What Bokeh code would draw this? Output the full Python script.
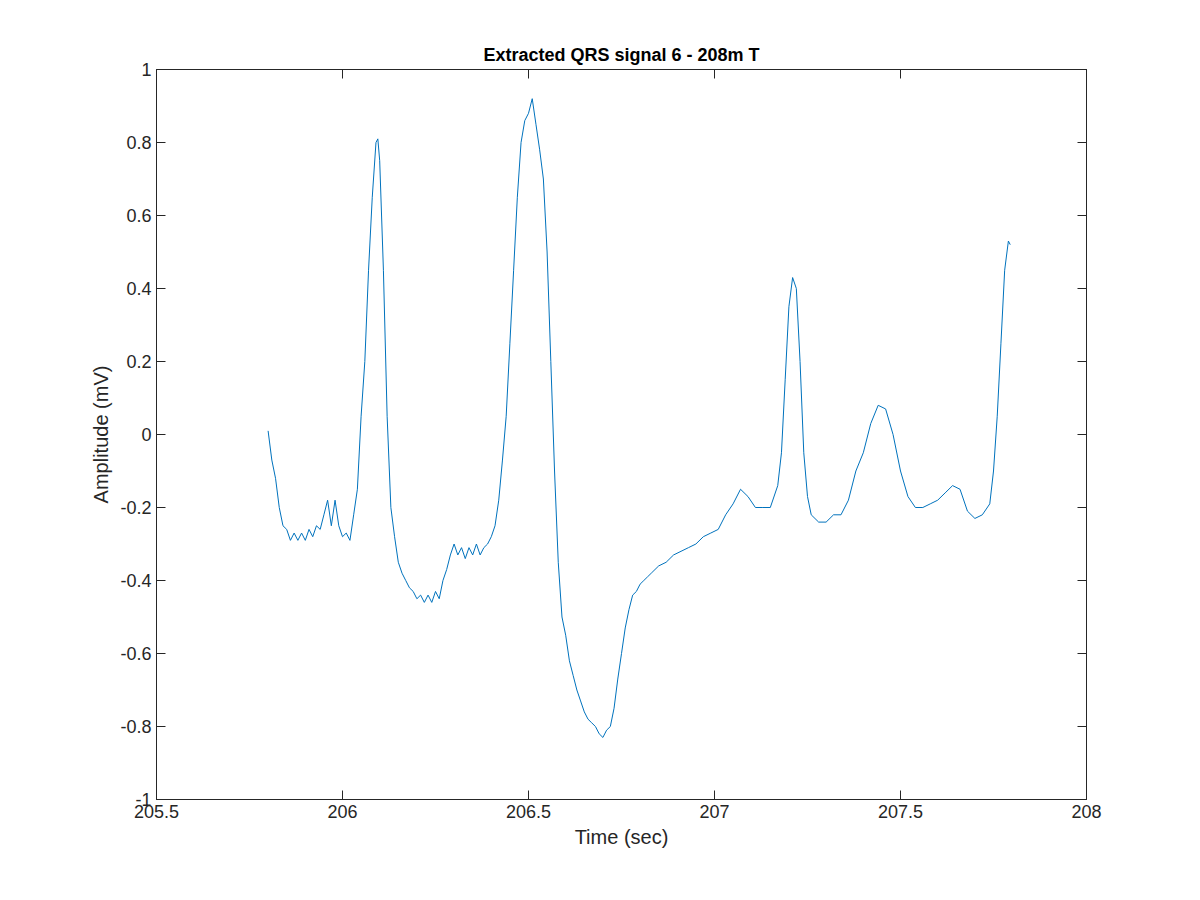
from bokeh.plotting import figure
from bokeh.models import LinearAxis, Range1d, FixedTicker
from bokeh.embed import file_html
from bokeh.resources import INLINE

t = [205.80,205.81,205.82,205.83,205.84,205.85,205.86,205.87,205.88,205.89,205.90,205.91,205.92,205.93,205.94,205.95,205.96,205.97,205.98,205.99,
206.00,206.01,206.02,206.03,206.04,206.05,206.06,206.07,206.08,206.09,206.095,206.10,206.11,206.12,206.13,206.14,206.15,206.16,206.17,206.18,206.19,
206.20,206.21,206.22,206.23,206.24,206.25,206.26,206.27,206.28,206.29,206.30,206.31,206.32,206.33,206.34,206.35,206.36,206.37,206.38,206.39,
206.40,206.41,206.42,206.43,206.44,206.45,206.46,206.47,206.48,206.49,206.50,206.51,206.52,206.53,206.54,206.55,206.56,206.57,206.58,206.59,
206.60,206.61,206.62,206.63,206.64,206.65,206.66,206.67,206.68,206.69,206.70,206.71,206.72,206.73,206.74,206.75,206.76,206.77,206.78,206.79,
206.80,206.81,206.82,206.83,206.85,206.87,206.89,206.91,206.93,206.95,206.97,206.99,207.01,207.03,207.05,207.07,207.09,207.11,207.13,207.15,
207.17,207.18,207.19,207.20,207.21,207.22,207.23,207.24,207.25,207.26,207.28,207.30,207.32,207.34,207.36,207.38,207.40,207.42,207.44,207.46,
207.48,207.50,207.52,207.54,207.56,207.58,207.60,207.62,207.64,207.66,207.68,207.70,207.72,207.74,207.75,207.76,207.77,207.78,207.79,207.795]
amp = [0.01,-0.07,-0.12,-0.20,-0.25,-0.26,-0.29,-0.27,-0.29,-0.27,-0.29,-0.26,-0.28,-0.25,-0.26,-0.22,-0.18,-0.25,-0.18,-0.25,
-0.28,-0.27,-0.29,-0.22,-0.15,0.05,0.20,0.45,0.65,0.80,0.81,0.75,0.45,0.05,-0.20,-0.28,-0.35,-0.38,-0.40,-0.42,-0.43,
-0.45,-0.44,-0.46,-0.44,-0.46,-0.43,-0.45,-0.40,-0.37,-0.33,-0.30,-0.33,-0.31,-0.34,-0.31,-0.33,-0.30,-0.33,-0.31,-0.30,
-0.28,-0.25,-0.18,-0.07,0.05,0.25,0.45,0.65,0.80,0.86,0.88,0.92,0.85,0.78,0.70,0.50,0.20,-0.10,-0.35,-0.50,
-0.55,-0.62,-0.66,-0.70,-0.73,-0.76,-0.78,-0.79,-0.80,-0.82,-0.83,-0.81,-0.80,-0.75,-0.67,-0.60,-0.53,-0.48,-0.44,-0.43,
-0.41,-0.40,-0.39,-0.38,-0.36,-0.35,-0.33,-0.32,-0.31,-0.30,-0.28,-0.27,-0.26,-0.22,-0.19,-0.15,-0.17,-0.20,-0.20,-0.20,
-0.14,-0.05,0.15,0.35,0.43,0.40,0.20,-0.05,-0.17,-0.22,-0.24,-0.24,-0.22,-0.22,-0.18,-0.10,-0.05,0.03,0.08,0.07,
0.00,-0.10,-0.17,-0.20,-0.20,-0.19,-0.18,-0.16,-0.14,-0.15,-0.21,-0.23,-0.22,-0.19,-0.10,0.05,0.25,0.45,0.53,0.52]

xticks = [205.5, 206, 206.5, 207, 207.5, 208]
yticks = [-1, -0.8, -0.6, -0.4, -0.2, 0, 0.2, 0.4, 0.6, 0.8, 1]
font = "Liberation Sans"

p = figure(width=1184, height=884, output_backend="svg", toolbar_location=None,
           x_range=Range1d(205.5, 208), y_range=Range1d(-1, 1),
           min_border_left=156, min_border_right=98, min_border_top=69, min_border_bottom=85,
           title="Extracted QRS signal 6 - 208m T")
p.title.align = "center"
p.title.text_font = font
p.title.text_font_size = "18px"
p.title.text_font_style = "bold"
p.title.text_color = "black"
p.xgrid.visible = False
p.ygrid.visible = False
p.outline_line_color = "#262626"

p.line(t, amp, line_color="#0072BD", line_width=1)

def style(ax, ticks):
    ax.ticker = FixedTicker(ticks=ticks)
    ax.major_tick_in = 9
    ax.major_tick_out = 0
    ax.minor_tick_line_color = None
    ax.axis_line_color = "#262626"
    ax.major_tick_line_color = "#262626"
    ax.major_label_text_font = font
    ax.major_label_text_font_size = "18px"
    ax.major_label_text_color = "#262626"
    ax.axis_label_text_font = font
    ax.axis_label_text_font_size = "20px"
    ax.axis_label_text_font_style = "normal"
    ax.axis_label_text_color = "#262626"

p.xaxis.axis_label = "Time (sec)"
p.yaxis.axis_label = "Amplitude (mV)"
style(p.xaxis[0], xticks)
style(p.yaxis[0], yticks)
p.xaxis[0].major_label_overrides = {v: ("%g" % v) for v in xticks}
p.yaxis[0].major_label_overrides = {v: ("%g" % v) for v in yticks}

ra = LinearAxis(); style(ra, yticks)
ta = LinearAxis(); style(ta, xticks)
ra.major_label_text_alpha = 0
ta.major_label_text_alpha = 0
ra.major_label_standoff = 0
ta.major_label_standoff = 0
ra.major_label_overrides = {v: " " for v in yticks}
ta.major_label_overrides = {v: " " for v in xticks}
p.add_layout(ra, "right")
p.add_layout(ta, "above")

open("out.html", "w").write(file_html(p, INLINE))
